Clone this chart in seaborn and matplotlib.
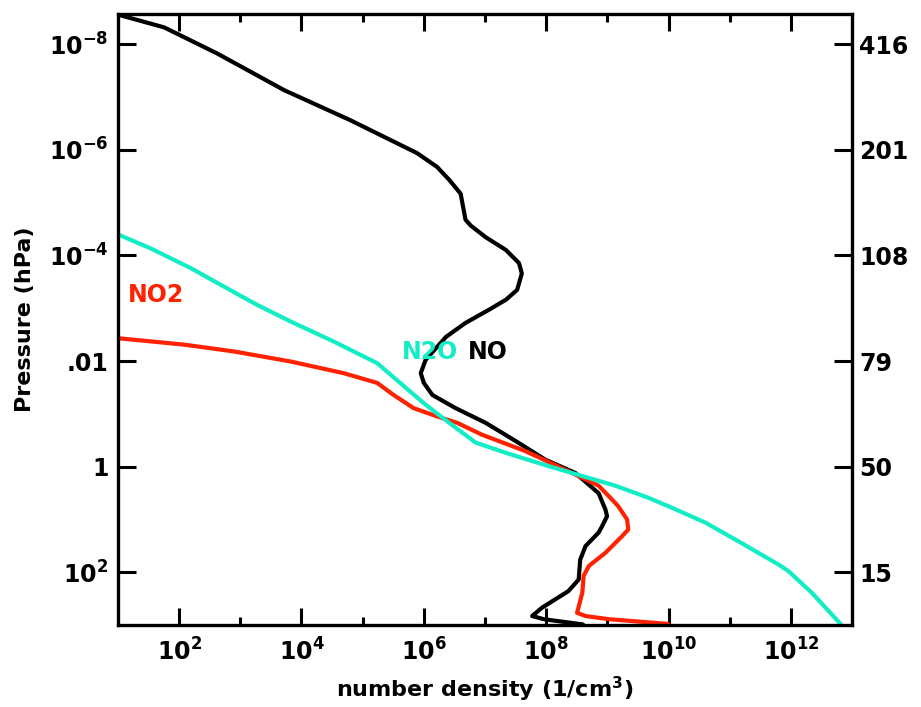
import matplotlib
matplotlib.use("Agg")
import matplotlib.pyplot as plt
import seaborn as sns
import pandas as pd
from matplotlib.ticker import FixedLocator, FixedFormatter, NullLocator, NullFormatter

# ---- data ----
no_density = [1.0e1, 5.7e1, 4.2e2, 5.2e3, 6.3e4, 7.7e5, 1.64e6, 2.6e6, 4.0e6, 4.8e6,
              5.8e6, 1.02e7, 2.2e7, 3.6e7, 4.0e7, 3.35e7, 2.2e7, 1.16e7, 4.8e6, 2.3e6,
              1.07e6, 8.9e5, 1.0e6, 1.38e6, 3.3e6, 1.02e7, 3.2e7, 9.7e7, 3.0e8, 7.2e8,
              9.3e8, 9.9e8, 8.2e8, 7.2e8, 4.4e8, 3.6e8, 3.4e8, 2.3e8, 8.6e7, 5.9e7,
              9.1e7, 4.0e8]
no_pressure = [2.75e-9, 4.8e-9, 1.5e-8, 7.4e-8, 2.75e-7, 1.15e-6, 2.1e-6, 3.7e-6, 6.8e-6, 2.1e-5,
               2.7e-5, 4.5e-5, 7.9e-5, 1.4e-4, 2.2e-4, 4.5e-4, 6.9e-4, 1.07e-3, 1.9e-3, 3.5e-3,
               9.5e-3, 1.7e-2, 2.6e-2, 4.4e-2, 7.8e-2, 1.48e-1, 3.3e-1, 7.4e-1, 1.32, 3.2,
               6.5, 8.7, 13.5, 17.8, 32, 58, 138, 229, 468, 676,
               776, 977]

no2_density = [1.0e1, 1.21e2, 7.9e2, 6.6e3, 4.9e4, 1.73e5, 3.2e5, 6.8e5, 1.64e6, 3.5e6,
               9.0e6, 4.6e7, 2.65e8, 7.2e8, 1.19e9, 1.5e9, 2.1e9, 2.2e9, 1.73e9, 9.3e8,
               5.0e8, 4.1e8, 3.9e8, 3.2e8, 4.4e8, 1.05e9, 9.9e9]
no2_pressure = [3.7e-3, 4.9e-3, 6.6e-3, 1.02e-2, 1.7e-2, 2.6e-2, 4.4e-2, 7.8e-2, 1.12e-1, 1.48e-1,
                2.5e-1, 5.1e-1, 1.32, 2.3, 4.2, 5.6, 10, 15.5, 21, 43,
                76, 117, 245, 589, 676, 776, 955]

n2o_density = [1.0e1, 3.45e1, 1.55e2, 5.4e2, 1.9e3, 6.6e3, 3.4e4, 1.73e5, 4.1e5, 1.0e6,
               2.6e6, 7.0e6, 2.2e7, 1.1e8, 3.9e8, 1.35e9, 4.7e9, 1.13e10, 4.0e10, 1.39e11,
               6.2e11, 9.1e11, 2.2e12, 6.6e12]
n2o_pressure = [4.0e-5, 7.4e-5, 1.74e-4, 3.9e-4, 8.7e-4, 1.78e-3, 4.3e-3, 1.1e-2, 2.6e-2, 6.3e-2,
                1.48e-1, 3.5e-1, 5.5e-1, 0.98, 1.51, 2.3, 3.9, 6.0, 11.5, 26,
                71, 95, 245, 977]

x_major = [1e2, 1e4, 1e6, 1e8, 1e10, 1e12]
x_major_labels = [r"$10^{2}$", r"$10^{4}$", r"$10^{6}$", r"$10^{8}$", r"$10^{10}$", r"$10^{12}$"]
x_minor = [1e3, 1e5, 1e7, 1e9, 1e11]
p_ticks = [1e-8, 1e-6, 1e-4, 1e-2, 1, 1e2]
p_labels = [r"$10^{-8}$", r"$10^{-6}$", r"$10^{-4}$", ".01", "1", r"$10^{2}$"]
alt_labels = ["416", "201", "108", "79", "50", "15"]

species = ["NO", "NO2", "N2O"]
colors = {"NO": "black", "NO2": "#FF2200", "N2O": "#12EDC6"}

# ---- style ----
sns.set_style("white")
plt.rcParams["font.family"] = ["DejaVu Sans"]
plt.rcParams["font.weight"] = "bold"
plt.rcParams["axes.labelweight"] = "bold"
plt.rcParams["mathtext.fontset"] = "dejavusans"
plt.rcParams["mathtext.default"] = "bf"
for key in ["text.color", "axes.labelcolor", "xtick.color", "ytick.color",
            "xtick.labelcolor", "ytick.labelcolor", "axes.edgecolor"]:
    plt.rcParams[key] = "black"

fig = plt.figure(figsize=(9.21, 7.07), dpi=100)
ax = fig.add_axes([0.1281, 0.116, 0.7970, 0.864])

frames = [
    pd.DataFrame({"density": no_density, "pressure": no_pressure, "species": "NO"}),
    pd.DataFrame({"density": no2_density, "pressure": no2_pressure, "species": "NO2"}),
    pd.DataFrame({"density": n2o_density, "pressure": n2o_pressure, "species": "N2O"}),
]
for df in frames:
    sp = df["species"].iloc[0]
    sns.lineplot(data=df, x="density", y="pressure", sort=False, estimator=None,
                 color=colors[sp], linewidth=3.0, ax=ax, legend=False)

ax.set_xscale("log")
ax.set_yscale("log")
ax.set_xlim(1e1, 1e13)
ax.set_ylim(10 ** 3.0, 10 ** -8.57)

ax.xaxis.set_major_locator(FixedLocator(x_major))
ax.xaxis.set_major_formatter(FixedFormatter(x_major_labels))
ax.xaxis.set_minor_locator(FixedLocator(x_minor))
ax.xaxis.set_minor_formatter(NullFormatter())
ax.yaxis.set_major_locator(FixedLocator(p_ticks))
ax.yaxis.set_major_formatter(FixedFormatter(p_labels))
ax.yaxis.set_minor_locator(NullLocator())

for s in ax.spines.values():
    s.set_linewidth(2.4)
    s.set_color("black")

ax.tick_params(axis="x", which="major", direction="in", length=12, width=2.2,
               top=True, bottom=True, labelsize=17, pad=10, colors="black")
ax.tick_params(axis="x", which="minor", direction="in", length=6, width=2.2,
               top=True, bottom=True, colors="black")
ax.tick_params(axis="y", which="major", direction="in", length=13, width=2.2,
               left=True, right=False, labelsize=17, pad=7, colors="black")

ax.set_xlabel("number density (1/cm$^{3}$)", fontsize=16, labelpad=6, color="black")
ax.set_ylabel("Pressure (hPa)", fontsize=16, labelpad=10, color="black")

ax2 = ax.twinx()
ax2.set_yscale("log")
ax2.set_ylim(ax.get_ylim())
ax2.yaxis.set_major_locator(FixedLocator(p_ticks))
ax2.yaxis.set_major_formatter(FixedFormatter(alt_labels))
ax2.yaxis.set_minor_locator(NullLocator())
ax2.yaxis.set_minor_formatter(NullFormatter())
ax2.tick_params(axis="y", which="major", direction="in", length=13, width=2.2,
                labelsize=17, pad=5, colors="black")
for s in ax2.spines.values():
    s.set_visible(False)

ax.text(0.0136, 0.540, "NO2", transform=ax.transAxes, color=colors["NO2"],
        fontsize=17, fontweight="bold", ha="left", va="center")
ax.text(0.387, 0.447, "N2O", transform=ax.transAxes, color=colors["N2O"],
        fontsize=17, fontweight="bold", ha="left", va="center")
ax.text(0.477, 0.447, "NO", transform=ax.transAxes, color=colors["NO"],
        fontsize=17, fontweight="bold", ha="left", va="center")

fig.savefig("out.png", dpi=100)
